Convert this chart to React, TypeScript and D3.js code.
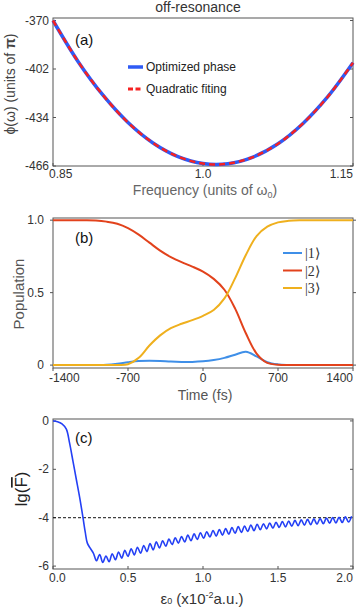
import React from "react";
import * as d3 from "d3";

// panel (a): spectral phase vs frequency
const freq = [0.85, 0.875, 0.9, 0.925, 0.95, 0.975, 1.0, 1.025, 1.05, 1.075, 1.1, 1.125, 1.15];
const phaseOptimized = [-370, -397, -419.3, -437.3, -450.8, -459.8, -464.4, -464.5, -460.1, -451.3, -437.9, -420.1, -397.9];
const phaseFit = [-370, -397, -419.3, -437.3, -450.8, -459.8, -464.4, -464.5, -460.1, -451.3, -437.9, -420.1, -397.9];
const freqTicks = [0.85, 1.0, 1.15];
const freqTickLabels = ["0.85", "1.0", "1.15"];
const phaseTicks = [-370, -402, -434, -466];

// panel (b): populations vs time
const timeFs = [-1400, -1300, -1200, -1100, -1000, -900, -800, -700, -600, -500, -400, -300, -200, -100, 0,
  100, 200, 300, 400, 500, 600, 700, 800, 900, 1000, 1100, 1200, 1300, 1400];
const pop1 = [0, 0, 0, 0, 0.001, 0.003, 0.01, 0.02, 0.028, 0.03, 0.028, 0.024, 0.022, 0.022, 0.026,
  0.035, 0.05, 0.072, 0.092, 0.06, 0.02, 0.005, 0.001, 0, 0, 0, 0, 0, 0];
const pop2 = [1, 1, 1, 1, 0.998, 0.99, 0.975, 0.945, 0.9, 0.845, 0.79, 0.745, 0.71, 0.68, 0.645,
  0.595, 0.52, 0.39, 0.22, 0.08, 0.015, 0.002, 0, 0, 0, 0, 0, 0, 0];
const pop3 = [0, 0, 0, 0, 0, 0, 0.001, 0.006, 0.05, 0.135, 0.205, 0.255, 0.285, 0.31, 0.34,
  0.38, 0.46, 0.6, 0.76, 0.89, 0.955, 0.985, 0.996, 1, 1, 1, 1, 1, 1];
const timeTicks = [-1400, -700, 0, 700, 1400];
const popTicks = [0, 0.5, 1.0];
const popTickLabels = ["0", "0.5", "1.0"];
const stateLabels = ["|1\u27e9", "|2\u27e9", "|3\u27e9"];
const stateColors = ["#3f8fe8", "#e2421c", "#efb01e"];

// panel (c): lg(F) vs field amplitude
const eps = [0, 0.03, 0.06, 0.089, 0.11, 0.133, 0.155, 0.178, 0.2, 0.215, 0.229, 0.247, 0.269,
  0.29, 0.311, 0.332, 0.353, 0.374, 0.395, 0.416, 0.437, 0.458, 0.479, 0.5, 0.521, 0.542, 0.563,
  0.584, 0.605, 0.626, 0.647, 0.668, 0.689, 0.71, 0.731, 0.752, 0.773, 0.794, 0.815, 0.836, 0.857,
  0.878, 0.899, 0.92, 0.941, 0.962, 0.983, 1.004, 1.025, 1.046, 1.067, 1.088, 1.109, 1.13, 1.151,
  1.172, 1.193, 1.214, 1.235, 1.256, 1.277, 1.298, 1.319, 1.34, 1.361, 1.382, 1.403, 1.424, 1.445,
  1.466, 1.487, 1.508, 1.529, 1.55, 1.571, 1.592, 1.613, 1.634, 1.655, 1.676, 1.697, 1.718, 1.739,
  1.76, 1.781, 1.802, 1.823, 1.844, 1.865, 1.886, 1.907, 1.928, 1.949, 1.97, 1.991];
const lgF = [0, -0.03, -0.12, -0.34, -0.9, -1.66, -2.4, -3.17, -4.0, -4.6, -5.05, -5.25, -5.46,
  -5.78, -5.52, -5.85, -5.58, -5.82, -5.49, -5.74, -5.42, -5.67, -5.35, -5.6, -5.28, -5.54, -5.22,
  -5.47, -5.15, -5.4, -5.07, -5.33, -5.0, -5.25, -4.95, -5.18, -4.88, -5.11, -4.83, -5.05, -4.78,
  -5.0, -4.72, -4.95, -4.67, -4.9, -4.62, -4.85, -4.58, -4.8, -4.53, -4.76, -4.49, -4.72, -4.45,
  -4.68, -4.41, -4.64, -4.37, -4.61, -4.34, -4.57, -4.3, -4.54, -4.27, -4.5, -4.25, -4.46, -4.22,
  -4.43, -4.19, -4.4, -4.16, -4.38, -4.14, -4.35, -4.11, -4.33, -4.09, -4.31, -4.07, -4.29, -4.05,
  -4.27, -4.03, -4.25, -4.01, -4.23, -3.99, -4.22, -3.98, -4.2, -3.96, -4.18, -3.94];
const epsTicks = [0, 0.5, 1.0, 1.5, 2.0];
const lgTicks = [0, -2, -4, -6];
const threshold = -4;

const FONT = "'Liberation Sans', Arial, sans-serif";
const SERIF = "'Liberation Serif', 'Times New Roman', serif";
const LEFT = 53, RIGHT = 353;

function Frame(props: {
  top: number; bottom: number;
  xScale: any; yScale: any;
  xTicks: number[]; xLabels: string[];
  yTicks: number[]; yLabels: string[];
  yLabelRight: number; xLabelY: number;
  tickOut?: boolean;
}) {
  const { top, bottom, xScale, yScale } = props;
  const t = props.tickOut ? -3 : 3;
  const n = props.xTicks.length;
  return (
    <g>
      <rect x={LEFT} y={top} width={RIGHT - LEFT} height={bottom - top}
        fill="none" stroke="#555" strokeWidth={1} />
      {props.yTicks.map((v, i) => (
        <g key={"y" + i}>
          <line x1={LEFT} x2={LEFT + t} y1={yScale(v)} y2={yScale(v)} stroke="#555" />
          <line x1={RIGHT} x2={RIGHT - t} y1={yScale(v)} y2={yScale(v)} stroke="#555" />
          <text x={props.yLabelRight} y={yScale(v) + 4} textAnchor="end"
            fontSize={12} fill="#333" fontFamily={FONT}>{props.yLabels[i]}</text>
        </g>
      ))}
      {props.xTicks.map((v, i) => (
        <g key={"x" + i}>
          <line x1={xScale(v)} x2={xScale(v)} y1={bottom} y2={bottom - t} stroke="#555" />
          <text x={i == 0 ? xScale(v) - 4 : xScale(v)} y={props.xLabelY}
            textAnchor={i == 0 ? "start" : i == n - 1 ? "end" : "middle"}
            fontSize={12} fill="#333" fontFamily={FONT}>{props.xLabels[i]}</text>
        </g>
      ))}
    </g>
  );
}

export default function App() {
  // (a)
  const xa = d3.scaleLinear().domain([0.85, 1.15]).range([LEFT, RIGHT]);
  const ya = d3.scaleLinear().domain([-466, -370]).range([166, 20.5]);
  const lineA = d3.line<number>().x((d, i) => xa(freq[i])).y(d => ya(d)).curve(d3.curveCatmullRom);

  // (b)
  const xb = d3.scaleLinear().domain([-1400, 1400]).range([LEFT, RIGHT]);
  const yb = d3.scaleLinear().domain([-0.02, 1.015]).range([368, 218]);
  const lineB = d3.line<number>().x((d, i) => xb(timeFs[i])).y(d => yb(d)).curve(d3.curveCatmullRom);

  // (c)
  const xc = d3.scaleLinear().domain([0, 2]).range([LEFT, RIGHT]);
  const yc = d3.scaleLinear().domain([-6.12, 0.08]).range([569, 419]);
  const lineC = d3.line<number>().x((d, i) => xc(eps[i])).y(d => yc(d)).curve(d3.curveCatmullRom);

  return (
    <svg width={359} height={609} style={{ position: "absolute", left: 0, top: 0 }}>
      <rect width={359} height={609} fill="#fff" />

      {/* panel (a) */}
      <text x={198} y={12} textAnchor="middle" fontSize={14} fill="#333" fontFamily={FONT}>off-resonance</text>
      <Frame top={18} bottom={166} xScale={xa} yScale={ya}
        xTicks={freqTicks} xLabels={freqTickLabels}
        yTicks={phaseTicks} yLabels={phaseTicks.map(String)}
        yLabelRight={49} xLabelY={178} />
      <path d={lineA(phaseOptimized) || ""} fill="none" stroke="#2f5bf5" strokeWidth={3.5} />
      <path d={lineA(phaseFit) || ""} fill="none" stroke="#f52222" strokeWidth={2.5} strokeDasharray="6 4" />
      <text x={75} y={45} fontSize={15} fill="#111" fontFamily={FONT}>(a)</text>
      <line x1={128} x2={143} y1={67} y2={67} stroke="#2f5bf5" strokeWidth={3.5} />
      <text x={146} y={71} fontSize={12} fill="#222" fontFamily={FONT}>Optimized phase</text>
      <line x1={128} x2={143} y1={89} y2={89} stroke="#f52222" strokeWidth={3} strokeDasharray="5 2.5" />
      <text x={146} y={93} fontSize={12} fill="#222" fontFamily={FONT}>Quadratic fiting</text>
      <text x={205} y={195} textAnchor="middle" fontSize={14} fill="#666" fontFamily={FONT}>
        Frequency (units of ω<tspan fontSize={9} dy={3}>0</tspan><tspan dy={-3}>)</tspan>
      </text>
      <text transform="translate(15,84) rotate(-90)" textAnchor="middle" fontSize={14} fill="#444" fontFamily={FONT}>
        ϕ(ω) (units of <tspan fontWeight="bold">π</tspan>)
      </text>

      {/* panel (b) */}
      <Frame top={218} bottom={368} xScale={xb} yScale={yb}
        xTicks={timeTicks} xLabels={timeTicks.map(String)}
        yTicks={popTicks} yLabels={popTickLabels}
        yLabelRight={44} xLabelY={382} tickOut />
      {[pop1, pop2, pop3].map((s, i) => (
        <path key={i} d={lineB(s) || ""} fill="none" stroke={stateColors[i]} strokeWidth={2} />
      ))}
      <text x={75} y={243} fontSize={15} fill="#111" fontFamily={FONT}>(b)</text>
      {stateLabels.map((s, i) => (
        <g key={s}>
          <line x1={283} x2={302} y1={253 + i * 17.5} y2={253 + i * 17.5} stroke={stateColors[i]} strokeWidth={2} />
          <text x={305} y={258 + i * 17.5} fontSize={14} fill="#333" fontFamily={SERIF}>{s}</text>
        </g>
      ))}
      <text x={205} y={400} textAnchor="middle" fontSize={14} fill="#555" fontFamily={FONT}>Time (fs)</text>
      <text transform="translate(24,294) rotate(-90)" textAnchor="middle" fontSize={15} fill="#555" fontFamily={FONT}>Population</text>

      {/* panel (c) */}
      <Frame top={419} bottom={569} xScale={xc} yScale={yc}
        xTicks={epsTicks} xLabels={epsTicks.map(v => v.toFixed(1))}
        yTicks={lgTicks} yLabels={lgTicks.map(String)}
        yLabelRight={49} xLabelY={582} />
      <line x1={LEFT} x2={RIGHT} y1={yc(threshold)} y2={yc(threshold)} stroke="#111" strokeWidth={1} strokeDasharray="3 2" />
      <path d={lineC(lgF) || ""} fill="none" stroke="#2440f5" strokeWidth={1.6} />
      <text x={75} y={443} fontSize={15} fill="#111" fontFamily={FONT}>(c)</text>
      <text x={202} y={604} textAnchor="middle" fontSize={15} fill="#333" fontFamily={FONT}>
        ε<tspan fontSize={9}>0</tspan> (x10<tspan fontSize={9} dy={-6}>-2</tspan><tspan dy={6}>a.u.)</tspan>
      </text>
      <text transform="translate(27,489) rotate(-90)" textAnchor="middle" fontSize={17} fill="#222" fontFamily={FONT}>
        lg(<tspan style={{ textDecoration: "overline" }}>F</tspan>)
      </text>
    </svg>
  );
}
